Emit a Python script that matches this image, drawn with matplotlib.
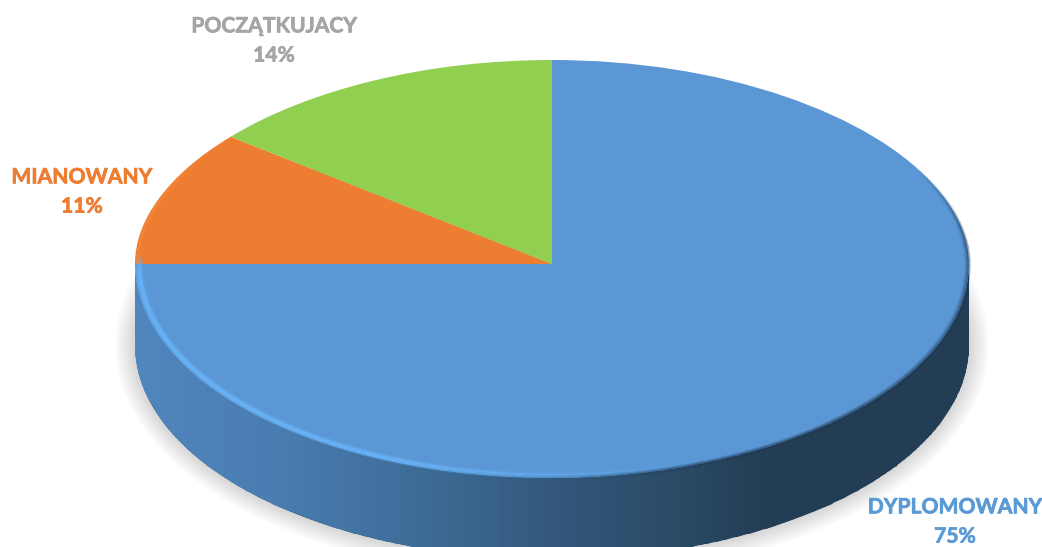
import numpy as np
import matplotlib
matplotlib.use("Agg")
import matplotlib.pyplot as plt
import matplotlib.patheffects as pe
from matplotlib.collections import LineCollection
from matplotlib.colors import LinearSegmentedColormap, to_rgb
from matplotlib.patches import Polygon

categories = ["DYPLOMOWANY", "MIANOWANY", "POCZĄTKUJACY"]
percent_values = [75, 11, 14]
slice_colors = ["#5B97D5", "#ED7D31", "#90CF4F"]
label_colors = ["#5B9BD5", "#ED7D31", "#A5A5A5"]
label_centres_px = [(955, 522), (82, 192), (274, 41)]

W, H = 1042, 547
CX, CY, RX, RY_UP, RY_DOWN, DEPTH = 552, 264, 417, 204, 214, 81
BOW = 12.0  # perspective bow of the far half of the disc

plt.rcParams["font.family"] = ["Lato", "DejaVu Sans"]
fig = plt.figure(figsize=(W / 100, H / 100), dpi=100, facecolor="white")
ax = fig.add_axes([0, 0, 1, 1])


def fwd(y):
    y = np.asarray(y, dtype=float)
    return np.where(y >= 0, y * RY_UP - BOW * y * (1 - y), y * RY_DOWN)


def inv(v):
    v = np.asarray(v, dtype=float)
    up = (-(RY_UP - BOW) + np.sqrt((RY_UP - BOW) ** 2 + 4 * BOW * np.clip(v, 0, None))) / (2 * BOW)
    return np.where(v >= 0, up, v / RY_DOWN)


wedges, _ = ax.pie(percent_values, colors=slice_colors, startangle=90, counterclock=False,
                   radius=1, wedgeprops=dict(linewidth=0, zorder=5))
ax.set_aspect("auto")
ax.set_yscale("function", functions=(fwd, inv))
ax.axis("off")


def set_limits():
    ax.set_xlim((0 - CX) / RX, (W - CX) / RX)
    ax.set_ylim(float(inv(CY - H)), float(inv(CY)))


set_limits()


def ring(theta_deg, scale=1.0, drop_px=0.0):
    t = np.radians(theta_deg)
    x = scale * np.cos(t)
    y = inv(fwd(scale * np.sin(t)) - drop_px)
    return x, y


def fade_line(theta_deg, alpha, color, lw, scale=1.0, drop_px=0.0, z=6):
    x, y = ring(theta_deg, scale, drop_px)
    pts = np.column_stack([x, y])
    segs = np.stack([pts[:-1], pts[1:]], axis=1)
    rgb = to_rgb(color)
    cols = [(*rgb, a) for a in alpha[:-1]]
    ax.add_collection(LineCollection(segs, colors=cols, linewidths=lw, zorder=z, capstyle="butt"))


# soft shadow: stacked translucent ellipses behind the dropped disc
t_all = np.radians(np.linspace(0, 360, 361))
for d in np.arange(20, 0, -2):
    ex = (RX + d) / RX * np.cos(t_all)
    ey = inv(-(CY * 0 + DEPTH) + (RY_DOWN + d) * np.sin(t_all))
    ax.add_patch(Polygon(np.column_stack([ex, ey]), closed=True, facecolor="#000000",
                         edgecolor="none", alpha=0.016, zorder=1))

# side wall with horizontal gradient
th = np.linspace(180, 360, 400)
tx, ty = ring(th)
bx, by = ring(th, 1.0, DEPTH)
wall_xy = np.vstack([np.column_stack([tx, ty]), np.column_stack([bx[::-1], by[::-1]])])
wall = Polygon(wall_xy, closed=True, facecolor="#33587C", edgecolor="none", zorder=2)
ax.add_patch(wall)
cmap = LinearSegmentedColormap.from_list("wall", [
    (0.00, "#4F86BE"), (0.16, "#4A7DB1"), (0.32, "#3F6E9B"), (0.50, "#33587C"),
    (0.68, "#284760"), (0.76, "#233D54"), (1.00, "#233D54")])
gx = np.linspace(-1, 1, 300)
gy = np.array([float(inv(CY - H - 40)), 0.02])
mesh = ax.pcolormesh(gx, gy, np.linspace(0, 1, 299)[None, :], cmap=cmap, zorder=3,
                     shading="flat", antialiased=False)
mesh.set_clip_path(wall)
set_limits()

# dark blur under the disc edge
th = np.linspace(215, 388, 500)
dark_a = np.clip((th - 215) / 70, 0, 1) * np.clip((388 - th) / 22, 0, 1)
fade_line(th, dark_a * 0.45, "#1B3650", 2.2, 1.0, 0.5, z=6)
fade_line(th, dark_a * 0.30, "#1B3650", 1.6, 0.996, 0.0, z=6)
fade_line(th, dark_a * 0.15, "#1B3650", 1.6, 0.992, 0.0, z=6)

# light bevel along the lower-left of the disc
th = np.linspace(178, 292, 300)
rim_a = np.clip((th - 176) / 6, 0, 1) * np.clip((292 - th) / 45, 0, 1)
fade_line(th, rim_a * 0.35, "#69B3F8", 5.5, 0.990, 0.0, z=7)
fade_line(th, rim_a * 0.9, "#69B3F8", 3.0, 0.990, 0.0, z=7)

# lighter bevel on the orange slice
th = np.linspace(142, 180, 80)
or_a = np.clip((th - 142) / 18, 0, 1)
fade_line(th, or_a * 0.7, "#F58A3C", 2.0, 0.994, 0.0, z=7)

for cat, pct, col, (px, py) in zip(categories, percent_values, label_colors, label_centres_px):
    t = fig.text(px / W, 1 - py / H, f"{cat}\n{pct}%", color=col, fontsize=15.2, fontweight="bold",
                 ha="center", va="center", linespacing=1.58, multialignment="center")
    t.set_path_effects([pe.withStroke(linewidth=0.5, foreground=col)])

fig.savefig("out.png", dpi=100, facecolor="white")
